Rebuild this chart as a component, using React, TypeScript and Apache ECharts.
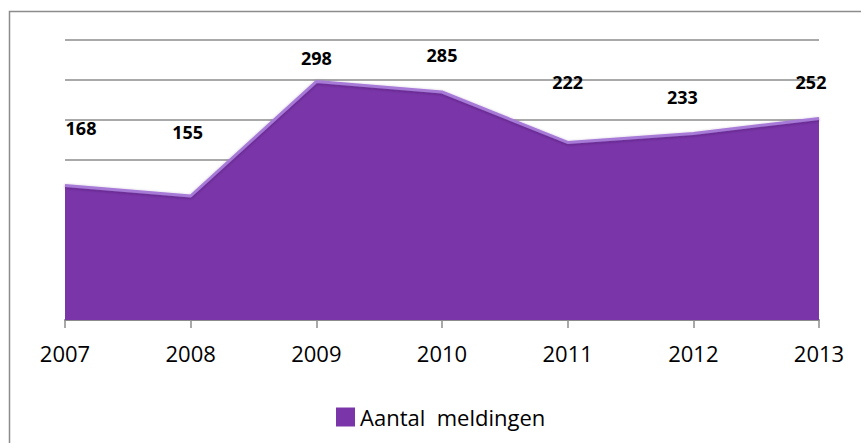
import React, { useEffect, useRef } from "react";
import * as echarts from "echarts";

const years = ["2007", "2008", "2009", "2010", "2011", "2012", "2013"];
const meldingen = [168, 155, 298, 285, 222, 233, 252];
const seriesName = "Aantal  meldingen";
const labelOffsets = [[16, -58], [-3, -64], [0, -24], [0, -37], [0, -60], [-11, -37], [-8, -36]];

export default function App() {
  const ref = useRef<HTMLDivElement>(null);
  useEffect(() => {
    document.body.style.margin = "0";
    const chart = echarts.init(ref.current!, null, { renderer: "svg" });
    chart.setOption({
      animation: false,
      backgroundColor: "#ffffff",
      textStyle: { fontFamily: "Open Sans" },
      graphic: [
        {
          type: "rect",
          shape: { x: 9.5, y: 11.5, width: 900, height: 500 },
          style: { fill: "none", stroke: "#8c8c8c", lineWidth: 1.5 },
          silent: true,
        },
      ],
      grid: { left: 65, right: 42, top: 40, bottom: 123 },
      legend: {
        data: [{ name: seriesName, icon: "rect" }],
        left: 331,
        top: 401,
        itemWidth: 19,
        itemHeight: 19,
        itemGap: 6,
        textStyle: { fontSize: 22, color: "#000", fontFamily: "Open Sans" },
      },
      xAxis: {
        type: "category",
        data: years,
        boundaryGap: false,
        axisLine: { lineStyle: { color: "#8c8c8c", width: 2 } },
        axisTick: { show: true, length: 8, lineStyle: { color: "#8c8c8c", width: 1.5 } },
        axisLabel: { color: "#000", fontSize: 22, margin: 22, fontFamily: "Open Sans" },
      },
      yAxis: {
        type: "value",
        min: 0,
        max: 350,
        interval: 50,
        axisLabel: { show: false },
        axisLine: { show: false },
        axisTick: { show: false },
        splitLine: { lineStyle: { color: "#8c8c8c", width: 1.5 } },
      },
      series: [
        {
          name: seriesName,
          type: "line",
          data: meldingen.map((v, i) => ({
            value: v,
            label: { offset: labelOffsets[i] },
          })),
          symbol: "circle",
          symbolSize: 0.1,
          showSymbol: true,
          itemStyle: { color: "#7a36a8", opacity: 1 },
          lineStyle: {
            color: "#a77ad8",
            width: 3,
            shadowColor: "rgba(60,20,90,0.45)",
            shadowBlur: 3,
            shadowOffsetY: 1,
          },
          areaStyle: { color: "#7a36a8", opacity: 1 },
          label: {
            show: true,
            position: "inside",
            color: "#000",
            fontSize: 18,
            fontWeight: "bold",
            fontFamily: "Open Sans",
          },
          z: 3,
        },
      ],
    });
    return () => chart.dispose();
  }, []);
  return <div ref={ref} style={{ width: 861, height: 443 }} />;
}
